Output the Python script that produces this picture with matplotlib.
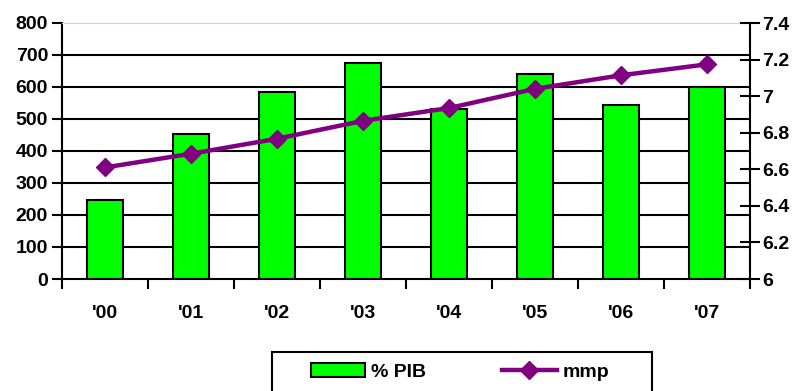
import matplotlib
matplotlib.use("Agg")
import matplotlib.pyplot as plt
from matplotlib.patches import Rectangle
import numpy as np

categories = ["'00", "'01", "'02", "'03", "'04", "'05", "'06", "'07"]
pib = [246, 452, 583, 675, 531, 640, 543, 599]
mmp = [6.61, 6.685, 6.767, 6.865, 6.935, 7.04, 7.114, 7.174]

plt.rcParams['font.family'] = 'Liberation Sans'
plt.rcParams['font.weight'] = 'bold'
plt.rcParams['font.size'] = 14

fig = plt.figure(figsize=(8, 3.91), dpi=100)
ax = fig.add_axes([62/800, 1-279/391, (750-62)/800, (279-23)/391])
x = np.arange(len(categories))

ax.set_axisbelow(True)
for v in range(100, 800, 100):
    ax.axhline(v, color='black', lw=1.5, zorder=0)
bars = ax.bar(x, pib, width=0.41, color='#00FF00', edgecolor='black', lw=1.5, label='% PIB', zorder=2)
ax.set_xlim(-0.5, len(categories)-0.5)
ax.set_ylim(0, 800)
yt = list(range(0, 801, 100))
ax.set_yticks(yt, labels=[str(v) for v in yt])
ax.set_xticks(np.arange(-0.5, len(categories), 1.0), labels=[''] * (len(categories) + 1))
ax.set_xticks(x, labels=categories, minor=True)
ax.tick_params(axis='x', which='minor', length=0, pad=19)
ax.tick_params(axis='x', which='major', length=7, width=1.5, direction='out')
ax.tick_params(axis='y', length=7, width=1.5, direction='out', pad=3)
for lab in ax.get_yticklabels() + ax.get_xticklabels(minor=True):
    lab.set_fontweight('bold')
ax.spines['top'].set_color('#d0d0d0')
ax.spines['right'].set_visible(False)
for s in ['left', 'bottom']:
    ax.spines[s].set_linewidth(1.5)

ax2 = ax.twinx()
line, = ax2.plot(x, mmp, color='#800080', lw=3.2, marker='D', markersize=9, label='mmp', zorder=3)
ax2.set_ylim(6, 7.4)
rt = [6, 6.2, 6.4, 6.6, 6.8, 7, 7.2, 7.4]
ax2.set_yticks(rt, labels=['6', '6.2', '6.4', '6.6', '6.8', '7', '7.2', '7.4'])
ax2.tick_params(axis='y', length=14, width=1.5, direction='inout', pad=2)
for lab in ax2.get_yticklabels():
    lab.set_fontweight('bold')
ax2.spines['right'].set_linewidth(1.5)
ax2.spines['top'].set_visible(False)
ax2.spines['left'].set_visible(False)
ax2.spines['bottom'].set_visible(False)

# legend frame (bottom runs off the figure like the reference)
fig.add_artist(Rectangle((272/800, -0.1), (652-272)/800, (391-352)/391 + 0.1,
                         transform=fig.transFigure, fill=False, ec='black', lw=1.5))
leg = fig.legend([bars, line], ['% PIB', 'mmp'], loc='center left',
                 bbox_to_anchor=(311/800, 1-372/391),
                 ncol=2, frameon=False, borderaxespad=0, borderpad=0,
                 handlelength=2.8, handletextpad=0.3, columnspacing=3.9)
for t in leg.get_texts():
    t.set_fontweight('bold')

fig.savefig('out.png', dpi=100)
